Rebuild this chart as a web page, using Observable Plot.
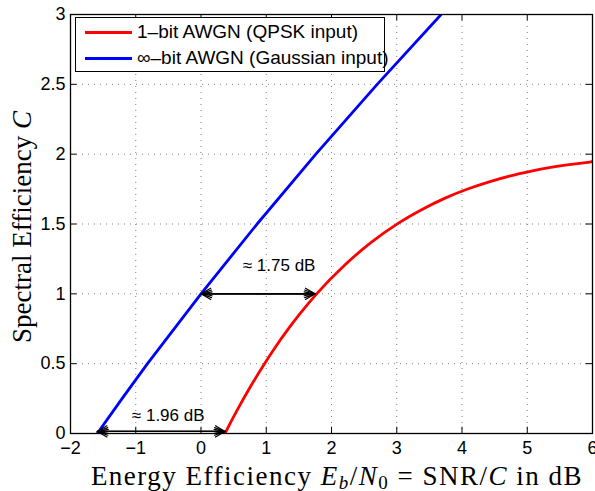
<!DOCTYPE html>
<html>
<head>
<meta charset="utf-8">
<script src="https://cdn.jsdelivr.net/npm/d3@7"></script>
<script src="https://cdn.jsdelivr.net/npm/@observablehq/plot@0.6"></script>
<style>
  html, body { margin: 0; padding: 0; background: #fff; }
  #wrap { position: relative; width: 595px; height: 491px; overflow: hidden; }
  .legend { position: absolute; left: 75px; top: 17px; width: 310px; height: 55px; border: 1px solid #000; background: #fff; box-sizing: border-box; font-family: "Liberation Sans", Arial, sans-serif; font-size: 19px; }
  .legend .row { position: absolute; left: 9px; height: 22px; display: flex; align-items: center; white-space: nowrap; }
  .legend .sw { width: 47px; height: 0; border-top: 3px solid; margin-right: 5px; }
</style>
</head>
<body>
<div id="wrap"></div>
<script>
// ---- data ----
const xTicks = [-2, -1, 0, 1, 2, 3, 4, 5, 6];
const yTicks = [0, 0.5, 1, 1.5, 2, 2.5, 3];

// infinite-bit AWGN (Gaussian input): Eb/N0 in dB vs spectral efficiency
const blueEbN0 = [-1.59, -1.21, -0.82, 0, 0.86, 1.76, 2.70, 3.68];
const blueC    = [0, 0.25, 0.5, 1, 1.5, 2, 2.5, 3];

// 1-bit AWGN (QPSK input)
const redEbN0 = [0.369, 0.417, 0.565, 0.759, 0.949, 1.136, 1.321, 1.502, 1.768, 2.200, 2.613, 3.009, 3.388, 3.750, 4.097, 4.428, 4.744, 5.046, 5.334, 5.610, 5.975, 6.0];
const redC    = [0, 0.045, 0.176, 0.336, 0.482, 0.616, 0.738, 0.849, 0.998, 1.205, 1.370, 1.501, 1.604, 1.687, 1.752, 1.804, 1.845, 1.877, 1.903, 1.924, 1.945, 1.947];

// gap annotations
const gapLabels = ["≈ 1.96 dB", "≈ 1.75 dB"];
const gapFrom   = [-1.59, 0];
const gapTo     = [0.37, 1.75];
const gapLevel  = [0.015, 1];

const legendLabels = ["1–bit AWGN (QPSK input)", "∞–bit AWGN (Gaussian input)"];
const seriesColors = ["#ff0000", "#0000ff"];

// ---- build ----
const blue = blueEbN0.map((x, i) => ({x, y: blueC[i]}));
const red = redEbN0.map((x, i) => ({x, y: redC[i]}));
const gaps = gapLabels.map((label, i) => ({label, a: gapFrom[i], b: gapTo[i], y: gapLevel[i], m: (gapFrom[i] + gapTo[i]) / 2}));

const arrowMarks = [];
for (const ang of [60, 40, 20]) {
  arrowMarks.push(Plot.arrow(gaps, {x1: "m", x2: "a", y1: "y", y2: "y", stroke: "#000", strokeWidth: 1.2, headAngle: ang, headLength: 14}));
  arrowMarks.push(Plot.arrow(gaps, {x1: "m", x2: "b", y1: "y", y2: "y", stroke: "#000", strokeWidth: 1.2, headAngle: ang, headLength: 14}));
}

const chart = Plot.plot({
  width: 595,
  height: 491,
  marginLeft: 70,
  marginRight: 3,
  marginTop: 14,
  marginBottom: 58,
  style: {fontFamily: "Liberation Sans, Arial, sans-serif", fontSize: "18px", background: "white", overflow: "visible"},
  x: {domain: [-2, 6]},
  y: {domain: [0, 3]},
  marks: [
    Plot.gridX(xTicks, {stroke: "#808080", strokeOpacity: 1, strokeWidth: 1, strokeDasharray: "1,5"}),
    Plot.gridY(yTicks, {stroke: "#808080", strokeOpacity: 1, strokeWidth: 1, strokeDasharray: "1,5"}),
    Plot.ruleX(xTicks, {x: d => d, y1: 0, y2: 0.045, stroke: "#000"}),
    Plot.ruleX(xTicks, {x: d => d, y1: 3, y2: 2.955, stroke: "#000"}),
    Plot.ruleY(yTicks, {y: d => d, x1: -2, x2: -1.9, stroke: "#000"}),
    Plot.ruleY(yTicks, {y: d => d, x1: 6, x2: 5.9, stroke: "#000"}),
    Plot.line(blue, {x: "x", y: "y", stroke: seriesColors[1], strokeWidth: 2.8, clip: true}),
    Plot.line(red, {x: "x", y: "y", stroke: seriesColors[0], strokeWidth: 2.8, curve: "monotone-x", clip: true}),
    ...arrowMarks,
    Plot.text(gaps.slice(0, 1), {x: "m", y: "y", text: "label", dx: 7, dy: -16, fontSize: 17, fill: "#000"}),
    Plot.text(gaps.slice(1), {x: "m", y: "y", text: "label", dx: 21, dy: -28, fontSize: 17, fill: "#000"}),
    Plot.frame({stroke: "#000", strokeWidth: 1.3}),
    Plot.axisX(xTicks, {tickSize: 0, tickPadding: 8, label: null, fontSize: 18, tickFormat: d => d < 0 ? "−" + (-d) : String(d)}),
    Plot.axisY(yTicks, {tickSize: 0, tickPadding: 5, label: null, fontSize: 18, tickFormat: d => String(d)})
  ]
});

const wrap = document.getElementById("wrap");
wrap.appendChild(chart);

// axis titles as SVG text
const svg = d3.select(chart.tagName.toLowerCase() === "svg" ? chart : chart.querySelector("svg"));
const serif = "Liberation Serif, Times New Roman, serif";

const xt = svg.append("text")
  .attr("x", 337).attr("y", 485)
  .attr("text-anchor", "middle")
  .attr("font-family", serif).attr("font-size", 27)
  .attr("letter-spacing", 1.5)
  .attr("fill", "#000");
xt.append("tspan").text("Energy Efficiency ");
xt.append("tspan").attr("font-style", "italic").text("E");
xt.append("tspan").attr("font-style", "italic").attr("font-size", 19).attr("dy", 4).text("b");
xt.append("tspan").attr("dy", -4).text("/");
xt.append("tspan").attr("font-style", "italic").text("N");
xt.append("tspan").attr("font-size", 19).attr("dy", 4).text("0");
xt.append("tspan").attr("dy", -4).text(" = SNR/");
xt.append("tspan").attr("font-style", "italic").text("C");
xt.append("tspan").text(" in dB");

const yt = svg.append("text")
  .attr("transform", "translate(31,227) rotate(-90)")
  .attr("text-anchor", "middle")
  .attr("font-family", serif).attr("font-size", 27)
  .attr("fill", "#000");
yt.append("tspan").text("Spectral Efficiency ");
yt.append("tspan").attr("font-style", "italic").text("C");

// legend
const legend = document.createElement("div");
legend.className = "legend";
legendLabels.forEach((lab, i) => {
  const row = document.createElement("div");
  row.className = "row";
  row.style.top = (3 + i * 26) + "px";
  const sw = document.createElement("div");
  sw.className = "sw";
  sw.style.borderColor = seriesColors[i];
  const t = document.createElement("span");
  t.textContent = lab;
  row.appendChild(sw);
  row.appendChild(t);
  legend.appendChild(row);
});
wrap.appendChild(legend);
</script>
</body>
</html>
